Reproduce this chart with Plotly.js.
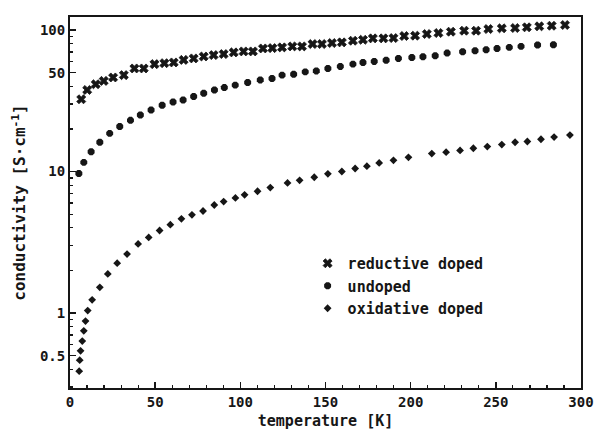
<!DOCTYPE html>
<html>
<head>
<meta charset="utf-8">
<script src="https://cdn.plot.ly/plotly-3.0.1.min.js"></script>
<style>html,body{margin:0;padding:0;background:#fff;}#chart{width:600px;height:430px;}</style>
</head>
<body>
<div id="chart"></div>
<script>
// temperature [K] and conductivity [S/cm]
const reductiveT = [6.6, 10.1, 15.1, 19.8, 25.3, 31.6, 37.8, 43.3, 49.6, 55.4, 60.9, 66.7, 72.6, 78.5, 84.3, 90.2, 96.1, 101.9, 107.4, 113.3, 118.8, 124.5, 130.5, 136.2, 142.4, 147.9, 153.8, 159.6, 166.1, 172.0, 177.8, 184.0, 189.9, 196.2, 202.6, 209.5, 216.3, 223.6, 231.4, 238.4, 245.6, 253.5, 261.3, 268.2, 275.5, 282.8, 290.6];
const reductiveS = [32.4, 37.7, 41.4, 43.7, 46.2, 48.0, 53.5, 53.5, 57.4, 58.3, 59.0, 61.5, 63.0, 65.0, 66.5, 67.6, 69.5, 70.6, 70.6, 74.1, 74.5, 75.4, 76.6, 76.6, 79.6, 79.6, 80.9, 81.8, 84.0, 85.3, 87.3, 87.3, 87.7, 90.7, 91.2, 93.7, 95.2, 97.3, 98.9, 98.9, 101.6, 102.8, 103.3, 104.5, 106.2, 107.2, 108.5];

const undopedT = [5.2, 8.1, 12.4, 17.5, 23.3, 29.2, 35.5, 41.3, 47.6, 54.1, 60.5, 66.4, 72.6, 78.5, 84.8, 90.6, 97.0, 104.3, 111.7, 118.6, 124.5, 131.3, 138.1, 144.6, 151.4, 158.7, 166.1, 172.0, 178.6, 185.6, 192.8, 200.7, 207.2, 214.4, 221.4, 230.5, 237.8, 244.3, 250.7, 257.9, 264.8, 274.5, 283.8];
const undopedS = [9.68, 11.6, 13.8, 16.1, 18.6, 20.8, 23.0, 25.1, 27.2, 29.4, 31.0, 32.0, 33.9, 35.7, 37.7, 39.2, 40.8, 42.6, 44.4, 45.4, 48.0, 48.7, 50.6, 51.4, 53.5, 55.3, 57.4, 59.0, 60.0, 61.2, 63.0, 64.0, 64.7, 65.8, 68.7, 70.2, 71.3, 72.5, 74.1, 75.4, 76.6, 78.3, 78.7];

const oxidativeT = [5.4, 5.7, 6.2, 7.2, 8.1, 9.1, 10.4, 13.0, 17.5, 22.2, 27.7, 33.5, 40.0, 46.2, 52.6, 58.9, 65.4, 71.6, 78.1, 84.7, 90.2, 97.1, 102.5, 110.1, 117.6, 127.7, 134.8, 143.4, 151.4, 159.6, 167.4, 174.3, 181.5, 189.9, 198.7, 212.4, 220.8, 229.0, 236.8, 245.0, 253.5, 261.3, 268.5, 276.5, 284.2, 293.5];
const oxidativeS = [0.388, 0.464, 0.540, 0.633, 0.748, 0.877, 1.04, 1.24, 1.52, 1.89, 2.25, 2.61, 3.08, 3.42, 3.83, 4.21, 4.63, 4.94, 5.26, 5.80, 6.13, 6.51, 6.84, 7.25, 7.70, 8.31, 8.67, 9.11, 9.63, 10.0, 10.5, 10.9, 11.5, 12.0, 12.6, 13.4, 13.7, 14.1, 14.6, 15.0, 15.5, 16.1, 16.3, 16.9, 17.5, 18.1];

const seriesNames = ['reductive doped', 'undoped', 'oxidative doped'];

const xTickVals = [0, 50, 100, 150, 200, 250, 300];
const xTickText = ['0', '50', '100', '150', '200', '250', '300'];
const yTickVals = [0.5, 1, 10, 50, 100];
const yTickText = ['0.5', '1', '10', '50', '100'];
const yMinorVals = [0.3, 0.4, 0.6, 0.7, 0.8, 0.9, 2, 3, 4, 5, 6, 7, 8, 9, 20, 30, 40, 60, 70, 80, 90];

const ink = '#161616';
const FONT = '"DejaVu Sans Mono", "Liberation Mono", monospace';

const traces = [
  {x: reductiveT, y: reductiveS, name: seriesNames[0], type: 'scatter', mode: 'markers',
   marker: {symbol: 'x', size: 8, color: ink, line: {width: 0.8, color: ink}}},
  {x: undopedT, y: undopedS, name: seriesNames[1], type: 'scatter', mode: 'markers',
   marker: {symbol: 'octagon', size: 7.5, color: ink}},
  {x: oxidativeT, y: oxidativeS, name: seriesNames[2], type: 'scatter', mode: 'markers',
   marker: {symbol: 'diamond', size: 6, color: ink}}
];

const layout = {
  width: 600, height: 430,
  margin: {l: 70, r: 19, t: 17, b: 42},
  paper_bgcolor: '#fff', plot_bgcolor: '#fff',
  font: {family: FONT, color: ink, size: 14, weight: 'bold'},
  showlegend: true,
  legend: {x: 0.465, xanchor: 'left', y: 0.38, yanchor: 'top',
           bgcolor: 'rgba(0,0,0,0)', borderwidth: 0,
           font: {family: FONT, size: 15, color: ink, weight: 'bold'},
           tracegroupgap: 0, itemwidth: 30},
  xaxis: {
    range: [0, 300], showgrid: false, zeroline: false,
    showline: true, linecolor: ink, linewidth: 2, mirror: true,
    ticks: 'inside', ticklen: 6, tickwidth: 1.5, tickcolor: ink,
    tickmode: 'array', tickvals: xTickVals, ticktext: xTickText,
    tickfont: {family: FONT, size: 14, color: ink, weight: 'bold'},
    minor: {tickmode: 'linear', tick0: 0, dtick: 10, ticks: 'inside', ticklen: 3, tickwidth: 1.2, tickcolor: ink, showgrid: false},
    title: {text: 'temperature [K]', font: {family: FONT, size: 15, color: ink, weight: 'bold'}, standoff: 7}
  },
  yaxis: {
    type: 'log', range: [-0.53, 2.092], showgrid: false, zeroline: false,
    showline: true, linecolor: ink, linewidth: 2, mirror: true,
    ticks: 'inside', ticklen: 6, tickwidth: 1.5, tickcolor: ink,
    tickmode: 'array', tickvals: yTickVals, ticktext: yTickText,
    tickfont: {family: FONT, size: 14, color: ink, weight: 'bold'},
    minor: {tickmode: 'array', tickvals: yMinorVals, ticks: 'inside', ticklen: 3, tickwidth: 1.2, tickcolor: ink, showgrid: false},
    title: {text: 'conductivity [S·cm<sup>-1</sup>]', font: {family: FONT, size: 16, color: ink, weight: 'bold'}, standoff: 10}
  }
};

Plotly.newPlot('chart', traces, layout, {displayModeBar: false, staticPlot: true});
</script>
</body>
</html>
